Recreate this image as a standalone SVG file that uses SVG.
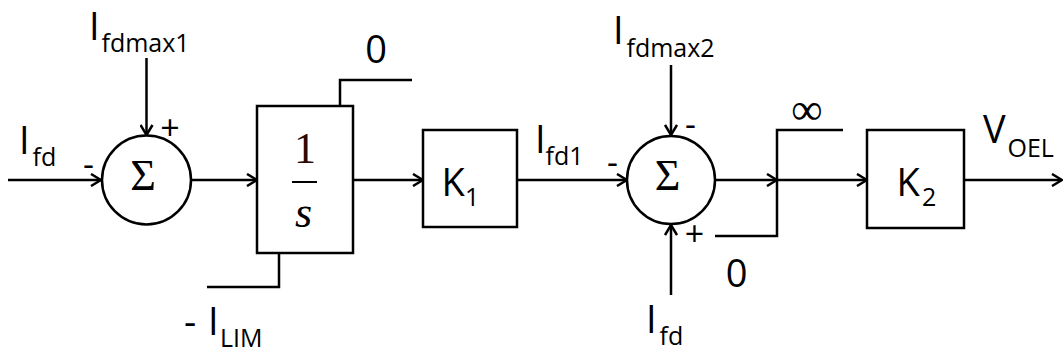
<svg xmlns="http://www.w3.org/2000/svg" width="1063" height="361" viewBox="0 0 1063 361">
<defs>
<marker id="arr" markerUnits="userSpaceOnUse" viewBox="0 0 12 14" refX="11" refY="7" markerWidth="12" markerHeight="14" orient="auto">
<path d="M1,1 L11,7 L1,13" fill="none" stroke="#000" stroke-width="2.5"/>
</marker>
</defs>
<style>
.ln{fill:none;stroke:#000;stroke-width:2.5}
.ar{fill:none;stroke:#000;stroke-width:2.5;marker-end:url(#arr)}
.blk{fill:#fff;stroke:#000;stroke-width:2.5}
.t{font-family:"Open Sans",sans-serif;font-size:38px;fill:#000}
.s{font-family:"Open Sans",sans-serif;font-size:25px;fill:#000}
.sg{font-family:"Open Sans",sans-serif;font-size:34px;fill:#000}
.m{font-family:"Liberation Serif",serif;font-size:44px;fill:#000}
</style>
<rect width="1063" height="361" fill="#fff"/>
<g id="connectors">
<line class="ar" x1="8" y1="180" x2="101" y2="180"/>
<line class="ar" x1="146.5" y1="58" x2="146.5" y2="135"/>
<line class="ar" x1="191" y1="180" x2="257" y2="180"/>
<line class="ar" x1="353" y1="180" x2="423" y2="180"/>
<line class="ar" x1="517" y1="180" x2="627" y2="180"/>
<line class="ar" x1="671" y1="65" x2="671" y2="135"/>
<line class="ar" x1="671" y1="295" x2="671" y2="225"/>
<line class="ar" x1="715" y1="180" x2="777" y2="180"/>
<line class="ar" x1="777" y1="180" x2="867" y2="180"/>
<line class="ar" x1="964" y1="180" x2="1062" y2="180"/>
</g>
<g id="in_ifd">
<text class="t"><tspan x="19" y="154">I</tspan><tspan class="s" x="32.5" y="166">fd</tspan></text>
<text class="sg" x="83" y="176">-</text>
</g>
<g id="in_ifdmax1">
<text class="t" x="89" y="40">I</text>
<text class="s" x="101.5" y="52">fdmax1</text>
</g>
<g id="sum1">
<circle class="blk" cx="146.5" cy="180" r="44.5"/>
<text class="m" x="143" y="190" text-anchor="middle">Σ</text>
<text class="sg" x="170" y="140" text-anchor="middle">+</text>
</g>
<g id="integrator">
<rect class="blk" x="257" y="106" width="96" height="147"/>
<text class="m" x="305" y="163" text-anchor="middle" style="fill:#2a0808">1</text>
<line x1="292" y1="182" x2="317" y2="182" stroke="#000" stroke-width="2"/>
<text class="m" x="303.5" y="227" text-anchor="middle" font-style="italic">s</text>
<polyline class="ln" points="340,106 340,80 412,80"/>
<polyline class="ln" points="279,253 279,287 207,287"/>
<text class="t" x="376" y="63" text-anchor="middle">0</text>
<text class="t"><tspan x="184" y="335">-</tspan><tspan x="208" y="335">I</tspan><tspan class="s" x="220" y="347">LIM</tspan></text>
</g>
<g id="k1">
<rect class="blk" x="423" y="130" width="94" height="97"/>
<text class="t" x="441.5" y="196">K</text>
<text class="s" x="465" y="206">1</text>
</g>
<g id="lbl_ifd1">
<text class="t"><tspan x="535" y="153">I</tspan><tspan class="s" x="545.5" y="165">fd1</tspan></text>
<text class="sg" x="607" y="174">-</text>
</g>
<g id="in_ifdmax2">
<text class="t"><tspan x="613" y="44">I</tspan><tspan class="s" x="626.5" y="57">fdmax2</tspan></text>
</g>
<g id="sum2">
<circle class="blk" cx="671" cy="180" r="44"/>
<text class="m" x="667.5" y="190" text-anchor="middle">Σ</text>
<text class="sg" x="685" y="136">-</text>
<text class="sg" x="694.5" y="245.5" text-anchor="middle">+</text>
</g>
<g id="in_ifd2">
<text class="t"><tspan x="646" y="333">I</tspan><tspan class="s" x="659.5" y="345">fd</tspan></text>
</g>
<g id="limiter">
<polyline class="ln" points="843,130 777,130 777,236 715,236"/>
<text class="m" x="807" y="124" text-anchor="middle" font-size="46">∞</text>
<text class="t" x="736.5" y="287" text-anchor="middle">0</text>
</g>
<g id="k2">
<rect class="blk" x="867" y="130" width="97" height="98"/>
<text class="t" x="896.5" y="196">K</text>
<text class="s" x="922" y="206">2</text>
</g>
<g id="out_voel">
<text class="t"><tspan x="983" y="143">V</tspan><tspan class="s" x="1007.5" y="157">OEL</tspan></text>
</g>
</svg>
